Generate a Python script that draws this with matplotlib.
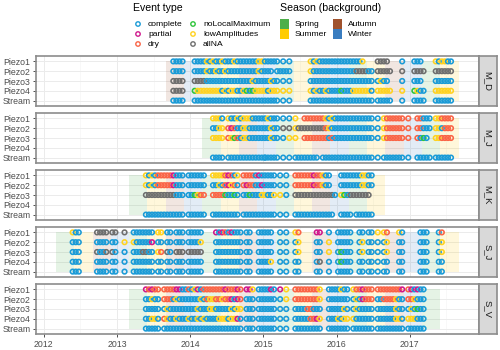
import numpy as np
import matplotlib.pyplot as plt
from matplotlib.patches import Rectangle

plt.rcParams['font.family'] = ['Liberation Sans', 'DejaVu Sans']

# -------------------------------------- #
# data: one string per series, one chunk per year (2012..2017), 24 bins per year
# c=complete p=partial d=dry n=noLocalMaximum l=lowAmplitudes a=allNA
# -------------------------------------- #
sites = ['M_D', 'M_J', 'M_K', 'S_J', 'S_V']
wells = ['Piezo1', 'Piezo2', 'Piezo3', 'Piezo4', 'Stream']

event_codes = ['c', 'p', 'd', 'n', 'l', 'a']
event_names = ['complete', 'partial', 'dry', 'noLocalMaximum', 'lowAmplitudes', 'allNA']
event_colors = ['#1A9BD7', '#D0198C', '#FA6446', '#2EC43A', '#FFD21F', '#6E6E6E']

season_names = ['Spring', 'Summer', 'Autumn', 'Winter']
season_colors = ['#4DAF4A', '#FFCC00', '#A0522D', '#3A7DC0']

# first season start / last season end of the background (year, month)
season_start = [(2013, 9), (2014, 3), (2013, 3), (2012, 3), (2013, 3)]
season_end = [(2017, 9), (2017, 9), (2016, 9), (2017, 9), (2017, 6)]

md_events = [
    "|..................cccc|.cccclclcclccclcccccccll|ccccc.c.c......lclcccccc|ccccccccl....aaaa....c|.ccc....lcllcc",
    "|..................cccc|.cccclcclcclcccccccccclc|ccc.ccccc......lcccccccc|ccccccaaaacc.aaaaa...a|.aaaa...aaaaaa",
    "|..................aaaa|.aaaaccccccccccccccclccc|cclcc.c.c......ccccccccc|cccccccccccc.clcc....c|.ccc....cccccc",
    "|..................aaaa|.nllllllllclcllcclncnlll|lclll.l.l......lclcclccc|cncccllllllc.lllll...l|.nlcc...llllll",
    "|..................cccc|.ccccccccccccccccccccccc|ccccc.c.c......ccccccccc|cccccccccccc.ccccc...c|.cccc...cccccc",
]
mj_events = [
    "||.......lllc.lcclclllcccc|clccc.c.c.l..dddddddlclc|cccccccccccc.c.ldddddd.d|..ddccc.lldddd",
    "||.......ccll.dpdccllccccc|cclcc.a.a.laaaaaaaaadlcc|cccccccccccc.c.ldddddd.d|..ddccc.llcddd",
    "||.......llll.dlndcllccccc|cclcc.c.l.l..ddddddddcdc|cccccccccccc.c.ldddddd.d|..dcnc..lldddd",
    "",
    "||.......cccc.ccccccccccccc|ccccc.c.c.cccccccc.ccccc|cccccccccccc.c.ccccccc.c|..ccccc.cccccc",
]
mk_events = [
    "|.........lclcdddddpccc.c|ccccc..lllldpdcl.ddddcpc|cccc.c.c..ddddddpddlcc|.cccccccllcc",
    "|.........lclcdddddpccc.c|ccccc..cclcdpldc.dpddccp|cccc.c.c..ddddddpddlcc|.cccccccllcc",
    "|.........aaaaaaaaaaccc.c|cnldd..ddddnccnc.ccncccl|lccl.l.c..aaaaaaaaaaaaac|.lncaaaaaaa",
    "",
    "|.........ccccccccccccc.c|ccccc..ccccccccc.ccccccc|cccc.c.c..ccccccccccccc|.cccc.cccccc",
]
sj_events = [
    ".........lcc.....aaaa.aa|..a..ccccccc.ll.cc.ccc.c|cccc....pcpdcpccc.cc..cc|ccc..c.c..ld.....pp..c|ccccc..cc.cc.l.ld...lc|...ccc...cd",
    ".........ccc.....cccc.cc|..l..lcccccp.cc.cc.ccc.c|cccl....ccccccccc.cc..cc|ccc..c.c..cl.....cc..l|ccccc..cl.cc.c.cl...cc|...ccc...cl",
    ".........ccc.....acca.ac|..c..cccaacc.ld.ac.aaa.a|aaaa....ccccccccc.cc..cc|ccc..c.c..cl.....cc..l|cnccc..cl.cc.c.cl...cc|...ccc...cl",
    ".........ccc.....cccc.cc|..c..ccccccc.cc.cc.ccc.c|cccc....ccccccccc.cc..cc|ccl..c.c..cc.....ca..c|cnccc..cc.cc.c.cc...cc|...ccc...cc",
    ".........ccc.....cccc.cc|..c..ccccccc.cc.cc.ccc.c|cccc....ccccccccc.cc..cc|ccc..c.c..cc.....cc..c|ccccc..cc.cc.c.cc...cc|...ccc...cc",
]
sv_events = [
    "|.........pdpdd.ddddppccd|clpcdddddddpdddpd.ppl.cc|ccpc.p.l..ddddddddl..ccc|clcc.lddpddd.ddddddddp.d|pcpcc",
    "|.........cclcc.dddclcccc|ccclcdllddlddpcpd.ccc.cc|cccc.c.l..ddddddddl..ccc|cccc.clcpddd.ccddddlcc.d|dlccc",
    "|.........ccccc.clccccccc|cclcccllccccclcll.ccc.cc|cccc.c.c..ccccddccc..ccc|cclc.clccccc.cccccclcc.c|lcncc",
    "|.........ccllc.dlcclcccl|cclclcccclllcllpc.ccc.cc|cccc.c.c..cccccddpl..ccc|lcll.lcccccc.ccccccllc.l|llccc",
    "|.........ccccc.ccccccccc|ccccccccccccccccc.ccc.cc|cccc.c.c..ccccccccc..ccc|cccc.ccccccc.ccccccccc.c|ccccc",
]
all_events = [md_events, mj_events, mk_events, sj_events, sv_events]

years = [2012, 2013, 2014, 2015, 2016, 2017]
bins_per_year = 24

# -------------------------------------- #
# layout (pixels of a 500x350 figure)
# -------------------------------------- #
W, H = 500, 350
fig = plt.figure(figsize=(5, 3.5), dpi=100)
panel_left, panel_right = 36, 479
strip_w = 18
panel_top0, panel_h, panel_step = 56, 50, 57
x_min, x_max = 2011.895, 2017.945
border_col = '#8C8C8C'
grid_col = '#EBEBEB'

color_of = dict(zip(event_codes, event_colors))


def season_of(month):
    return {3: 0, 6: 1, 9: 2, 12: 3}[month]


for k, site in enumerate(sites):
    top = panel_top0 + panel_step * k
    ax = fig.add_axes([panel_left / W, 1 - (top + panel_h) / H,
                       (panel_right - panel_left) / W, panel_h / H])
    ax.set_xlim(x_min, x_max)
    ax.set_ylim(-0.55, 4.55)

    # grid
    for yr in years:
        ax.axvline(yr, color=grid_col, lw=0.7, zorder=0)
        ax.axvline(yr + 0.5, color='#F3F3F3', lw=0.4, zorder=0)
    for r in range(5):
        ax.axhline(r, color=grid_col, lw=0.7, zorder=0)

    # season background
    y0, m0 = season_start[k]
    y1, m1 = season_end[k]
    yy, mm = y0, m0
    while (yy, mm) < (y1, m1):
        t0 = yy + (mm - 1) / 12
        ny, nm = (yy, mm + 3) if mm + 3 <= 12 else (yy + 1, mm + 3 - 12)
        t1 = ny + (nm - 1) / 12
        ax.add_patch(Rectangle((t0, 0), t1 - t0, 4,
                               facecolor=season_colors[season_of(mm)],
                               alpha=0.14, lw=0, zorder=1))
        yy, mm = ny, nm

    # events
    xs, ys, cs = [], [], []
    for i, row in enumerate(all_events[k]):
        ypos = 4 - i
        for yi, chunk in enumerate(row.split('|')):
            for j, ch in enumerate(chunk):
                if ch in color_of:
                    xs.append(years[0] + yi + (j + 0.5) / bins_per_year)
                    ys.append(ypos)
                    cs.append(color_of[ch])
    ax.scatter(xs, ys, s=11, facecolors='none', edgecolors=cs,
               linewidths=1.15, zorder=3)

    ax.set_yticks(range(5))
    ax.set_yticklabels(wells[::-1])
    ax.set_xticks(years)
    ax.tick_params(axis='both', length=2.5, width=0.6, color='#333333',
                   labelsize=6.3, labelcolor='#4D4D4D', pad=1.5)
    if k < len(sites) - 1:
        ax.tick_params(axis='x', labelbottom=False, length=0)
    else:
        ax.set_xticklabels([str(y) for y in years])
    for sp in ax.spines.values():
        sp.set_color(border_col)
        sp.set_linewidth(1.2)

    # strip
    axs = fig.add_axes([panel_right / W, 1 - (top + panel_h) / H,
                        strip_w / W, panel_h / H])
    axs.set_facecolor('#D9D9D9')
    axs.set_xticks([])
    axs.set_yticks([])
    for sp in axs.spines.values():
        sp.set_color(border_col)
        sp.set_linewidth(1.2)
    axs.text(0.5, 0.5, site, rotation=270, ha='center', va='center',
             fontsize=6.8, color='#1A1A1A', transform=axs.transAxes)

# -------------------------------------- #
# legends (drawn in pixel coordinates)
# -------------------------------------- #
axl = fig.add_axes([0, 1 - 52 / H, 1, 52 / H])
axl.set_xlim(0, W)
axl.set_ylim(52, 0)
axl.axis('off')

axl.text(133, 8, 'Event type', fontsize=7.6, va='center', ha='left')
for i, (name, col) in enumerate(zip(event_names, event_colors)):
    cx = 138 if i < 3 else 193
    cy = 24 + 10 * (i % 3)
    axl.scatter([cx], [cy], s=10, facecolors='none', edgecolors=col, linewidths=1.0)
    axl.text(cx + 10, cy, name, fontsize=6.1, va='center', ha='left')

axl.text(280, 8, 'Season (background)', fontsize=7.6, va='center', ha='left')
for i, (name, col) in enumerate(zip(season_names, season_colors)):
    sx = 280 if i < 2 else 333
    sy = 24 + 10 * (i % 2)
    axl.add_patch(Rectangle((sx, sy - 5), 9, 10, facecolor=col, lw=0))
    axl.text(sx + 15, sy, name, fontsize=6.1, va='center', ha='left')

plt.savefig('out.png', dpi=100)
